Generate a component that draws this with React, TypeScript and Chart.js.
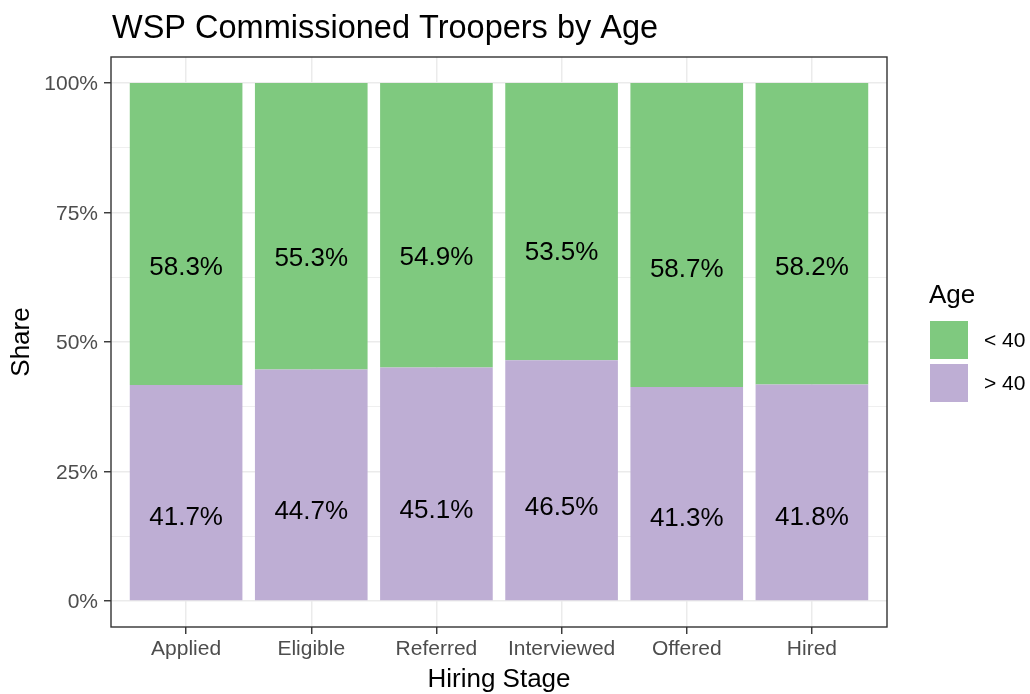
import React, { useEffect, useRef } from "react";
import { Chart, registerables } from "chart.js";

Chart.register(...registerables);

const titleText = "WSP Commissioned Troopers by Age";
const categories = ["Applied", "Eligible", "Referred", "Interviewed", "Offered", "Hired"];
const under40 = [58.3, 55.3, 54.9, 53.5, 58.7, 58.2];
const over40 = [41.7, 44.7, 45.1, 46.5, 41.3, 41.8];
const yMajorTicks = [0, 25, 50, 75, 100];
const yMinorTicks = [12.5, 37.5, 62.5, 87.5];
const legendTitle = "Age";
const legendLabels = ["< 40", "> 40"];
const xTitle = "Hiring Stage";
const yTitle = "Share";

const GREEN = "#7fc97f";
const PURPLE = "#beaed4";
const FONT = '"Liberation Sans", Arial, Helvetica, sans-serif';

export default function App() {
  const ref = useRef<HTMLCanvasElement | null>(null);

  useEffect(() => {
    document.body.style.margin = "0";
    const canvas = ref.current;
    if (!canvas) return;

    const overlay = {
      id: "overlay",
      afterDatasetsDraw(chart: any) {
        const { ctx, chartArea, scales } = chart;
        const xs = scales.x;
        const ys = scales.y;
        ctx.save();
        // bar labels
        ctx.fillStyle = "#000";
        ctx.font = `26px ${FONT}`;
        ctx.textAlign = "center";
        ctx.textBaseline = "middle";
        categories.forEach((_, i) => {
          const x = xs.getPixelForValue(i);
          const lo = over40[i];
          const hi = under40[i];
          ctx.fillText(`${lo.toFixed(1)}%`, x, ys.getPixelForValue(lo * 0.39) + 1);
          ctx.fillText(`${hi.toFixed(1)}%`, x, ys.getPixelForValue(100 - hi * 0.61) + 1);
        });
        // panel border
        ctx.strokeStyle = "#333333";
        ctx.lineWidth = 1.4;
        ctx.strokeRect(chartArea.left, chartArea.top, chartArea.right - chartArea.left, chartArea.bottom - chartArea.top);
        ctx.restore();
      },
      afterDraw(chart: any) {
        const { ctx, chartArea } = chart;
        ctx.save();
        // title
        ctx.fillStyle = "#000";
        ctx.font = `32.5px ${FONT}`;
        ctx.textAlign = "left";
        ctx.textBaseline = "alphabetic";
        ctx.fillText(titleText, 112, 38);
        // axis titles
        ctx.font = `26px ${FONT}`;
        ctx.textAlign = "center";
        ctx.textBaseline = "middle";
        ctx.fillText(xTitle, (chartArea.left + chartArea.right) / 2, 680);
        ctx.save();
        ctx.translate(22, (chartArea.top + chartArea.bottom) / 2);
        ctx.rotate(-Math.PI / 2);
        ctx.fillText(yTitle, 0, 0);
        ctx.restore();
        // legend
        ctx.textAlign = "left";
        ctx.fillText(legendTitle, 929, 296);
        ctx.fillStyle = GREEN;
        ctx.fillRect(930, 321, 38, 38);
        ctx.fillStyle = PURPLE;
        ctx.fillRect(930, 364, 38, 38);
        ctx.fillStyle = "#000";
        ctx.font = `21px ${FONT}`;
        ctx.fillText(legendLabels[0], 984, 341);
        ctx.fillText(legendLabels[1], 984, 384);
        ctx.restore();
      },
    };

    const chart = new Chart(canvas, {
      type: "bar",
      data: {
        datasets: [
          {
            label: legendLabels[1],
            data: over40.map((v, i) => ({ x: i, y: v })),
            backgroundColor: PURPLE,
            borderWidth: 0,
            barPercentage: 0.9,
            categoryPercentage: 1,
          },
          {
            label: legendLabels[0],
            data: under40.map((v, i) => ({ x: i, y: v })),
            backgroundColor: GREEN,
            borderWidth: 0,
            barPercentage: 0.9,
            categoryPercentage: 1,
          },
        ],
      },
      options: {
        responsive: false,
        animation: false,
        devicePixelRatio: 1,
        font: { family: FONT },
        layout: { padding: { top: 57, right: 143, left: 0, bottom: 0 } },
        plugins: {
          legend: { display: false },
          title: { display: false },
          tooltip: { enabled: false },
        },
        scales: {
          x: {
            type: "linear",
            min: -0.6,
            max: 5.6,
            stacked: true,
            offset: false,
            afterBuildTicks: (s: any) => {
              s.ticks = categories.map((_, i) => ({ value: i }));
            },
            afterFit: (s: any) => {
              s.height = 67;
            },
            ticks: {
              callback: (v: any) => categories[v as number] ?? "",
              color: "#4d4d4d",
              font: { size: 21, family: FONT },
              padding: 3,
              autoSkip: false,
              maxRotation: 0,
              minRotation: 0,
            },
            grid: {
              offset: false,
              color: "#ebebeb",
              lineWidth: 1.5,
              tickColor: "#333333",
              tickLength: 7,
              tickWidth: 1.4,
            },
            border: { display: false },
          },
          y: {
            type: "linear",
            min: -5,
            max: 105,
            stacked: true,
            afterBuildTicks: (s: any) => {
              s.ticks = [...yMajorTicks, ...yMinorTicks].sort((a, b) => a - b).map((v) => ({ value: v }));
            },
            afterFit: (s: any) => {
              s.width = 111;
            },
            ticks: {
              callback: (v: any) => (yMajorTicks.includes(v as number) ? `${v}%` : ""),
              color: "#4d4d4d",
              font: { size: 21, family: FONT },
              padding: 6,
              labelOffset: 1.5,
            },
            grid: {
              color: "#ebebeb",
              lineWidth: (c: any) => (yMajorTicks.includes(c.tick?.value) ? 1.5 : 0.8),
              tickColor: (c: any) => (yMajorTicks.includes(c.tick?.value) ? "#333333" : "rgba(0,0,0,0)"),
              tickLength: 7,
              tickWidth: 1.4,
            },
            border: { display: false },
          },
        },
      },
      plugins: [overlay],
    } as any);

    return () => chart.destroy();
  }, []);

  return (
    <div style={{ position: "absolute", left: 0, top: 0, width: 1030, height: 694, background: "#fff" }}>
      <canvas ref={ref} width={1030} height={694} style={{ display: "block" }} />
    </div>
  );
}
